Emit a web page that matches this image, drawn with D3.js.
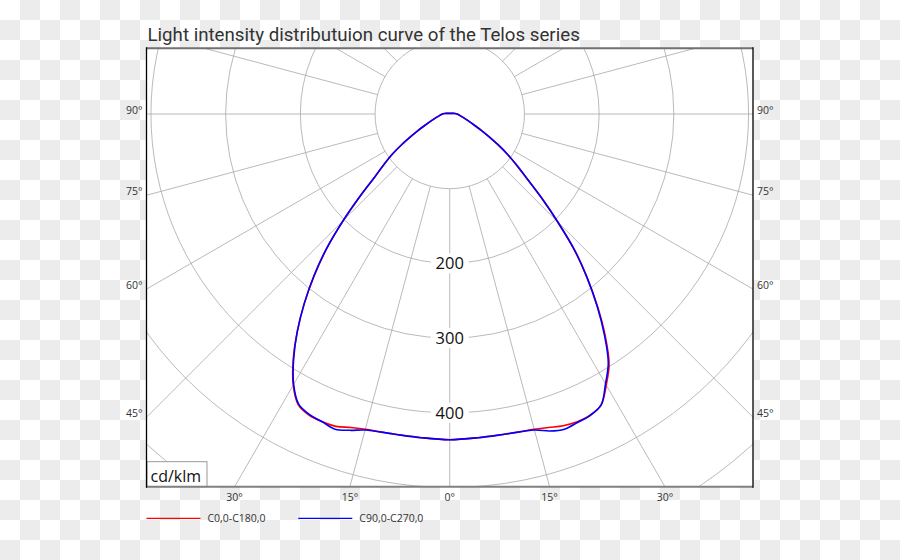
<!DOCTYPE html>
<html><head><meta charset="utf-8">
<script src="https://cdn.jsdelivr.net/npm/d3@7"></script>
<style>body{margin:0;background:#fff}svg{display:block}</style>
</head><body>
<svg id="chart" width="900" height="560"></svg>
<script>
// ---------- data ----------
const titleText = "Light intensity distributuion curve of the Telos series";
const unitLabel = "cd/klm";
const seriesNames = ["C0,0-C180,0", "C90,0-C270,0"];
const seriesColors = ["#ff0000", "#0000ff"];
// gamma angles (degrees from nadir)
const angles = [0,5,10,15,17.5,20,22.5,25,27.5,30,32.5,35,37.5,40,42.5,45,47.5,50,52.5,55,57.5,60,62.5,65,70,75,80,85,90,95,100,110,120,150,180];
// cd/klm
const c0   = [436,435,435,437,440,444,446,445,439,419,397,363,325,286,247,204,167,135,113,95,77,61,48,38,26,19,14.5,12,9.8,7,4.6,2.3,1.6,0.9,0.8];
const c180 = [436,435,435,437,440,445,446,445,439,419,390,356,320,282,243,201,162,131,111,94,76,60,48,38,26,19,14.5,12,9.8,7,4.6,2.3,1.6,0.9,0.8];
const c90  = [436,435,435,438,445,449,447,445,439,417,395,361,324,286,248,205,168,136,114,95,77,61,48,38,26,19,14.5,12,9.8,7,4.6,2.3,1.6,0.9,0.8];
const c270 = [436,435,435,438,444,449,446,444,438,418,389,356,320,283,244,202,163,131,111,94,76,60,48,38,26,19,14.5,12,9.8,7,4.6,2.3,1.6,0.9,0.8];
const ringValues = [100,200,300,400,500,600,700];
const ringLabels = [200,300,400];
const spokeAngles = d3.range(0, 360, 15);
const sideTicks = [90,75,60,45];
const bottomTicks = [-30,-15,0,15,30];

// ---------- layout ----------
const W = 900, H = 560;
const box = {left:146.5, right:753, top:48.3, bottom:486.7};
const cx = (box.left + box.right) / 2, cy = 114;
const r = d3.scaleLinear().domain([0, 100]).range([0, 74.7]);
const svg = d3.select("#chart");
const labelFont = "'Open Sans', sans-serif";

// checker background
const defs = svg.append("defs");
const pat = defs.append("pattern").attr("id","chk").attr("patternUnits","userSpaceOnUse")
  .attr("width",40).attr("height",40);
pat.append("rect").attr("width",40).attr("height",40).attr("fill","#fff");
pat.append("rect").attr("x",20).attr("y",0).attr("width",20).attr("height",20).attr("fill","#ececec");
pat.append("rect").attr("x",0).attr("y",20).attr("width",20).attr("height",20).attr("fill","#ececec");
svg.append("rect").attr("width",W).attr("height",H).attr("fill","url(#chk)");

defs.append("clipPath").attr("id","plotclip").append("rect")
  .attr("x",box.left).attr("y",box.top).attr("width",box.right-box.left).attr("height",box.bottom-box.top);

svg.append("rect").attr("x",box.left).attr("y",box.top)
  .attr("width",box.right-box.left).attr("height",box.bottom-box.top).attr("fill","#fff");

const plot = svg.append("g").attr("clip-path","url(#plotclip)");
const g = plot.append("g").attr("transform",`translate(${cx},${cy})`);

// spokes
const rad = d => d * Math.PI / 180;
g.selectAll("line.spoke").data(spokeAngles).join("line").attr("class","spoke")
  .attr("x1", d => r(100) * Math.sin(rad(d))).attr("y1", d => r(100) * Math.cos(rad(d)))
  .attr("x2", d => r(1000) * Math.sin(rad(d))).attr("y2", d => r(1000) * Math.cos(rad(d)))
  .attr("stroke","#a8a8a8").attr("stroke-width",0.8);

// rings
g.selectAll("circle.ring").data(ringValues).join("circle").attr("class","ring")
  .attr("r", d => r(d)).attr("fill","none").attr("stroke","#a8a8a8").attr("stroke-width",0.8);

// ring labels
const rl = g.selectAll("g.rl").data(ringLabels).join("g").attr("class","rl")
  .attr("transform", d => `translate(0,${r(d)})`);
rl.append("rect").attr("x",-19).attr("y",-10).attr("width",38).attr("height",20).attr("fill","#fff");
rl.append("text").text(d => d).attr("text-anchor","middle").attr("dy","0.36em")
  .attr("font-family",labelFont).attr("font-size",16.5).attr("fill","#111");

// curves
const line = d3.lineRadial().angle(d => d.a).radius(d => r(d.v)).curve(d3.curveCatmullRom.alpha(0.5));
function curvePts(left, right) {
  const pts = [];
  for (let i = angles.length - 1; i >= 0; i--) pts.push({a: Math.PI + rad(angles[i]), v: left[i]});
  for (let i = 1; i < angles.length; i++) pts.push({a: Math.PI - rad(angles[i]), v: right[i]});
  return pts;
}
const curves = [curvePts(c180, c0), curvePts(c270, c90)];
g.selectAll("path.curve").data(curves).join("path").attr("class","curve")
  .attr("d", line).attr("fill","none")
  .attr("stroke", (d,i) => seriesColors[i]).attr("stroke-width",1.6);

// unit box
const ub = svg.append("g");
ub.append("rect").attr("x",box.left+0.5).attr("y",461.7).attr("width",60).attr("height",box.bottom-461.7)
  .attr("fill","#fff").attr("stroke","#999").attr("stroke-width",1);
ub.append("text").text(unitLabel).attr("x",150.5).attr("y",481.7)
  .attr("font-family",labelFont).attr("font-size",16).attr("fill","#111");

// border
svg.append("line").attr("x1",box.left).attr("x2",box.right).attr("y1",box.top).attr("y2",box.top)
  .attr("stroke","#707070").attr("stroke-width",2);
svg.append("line").attr("x1",box.left).attr("x2",box.right).attr("y1",box.bottom).attr("y2",box.bottom)
  .attr("stroke","#808080").attr("stroke-width",2);
svg.append("line").attr("x1",box.left).attr("x2",box.left).attr("y1",box.top-1).attr("y2",box.bottom+1)
  .attr("stroke","#000").attr("stroke-width",1.3);
svg.append("line").attr("x1",box.right).attr("x2",box.right).attr("y1",box.top-1).attr("y2",box.bottom+1)
  .attr("stroke","#000").attr("stroke-width",1.3);

// side angle labels
const dxEdge = cx - box.left;
sideTicks.forEach(t => {
  const y = cy + dxEdge / Math.tan(rad(t));
  svg.append("text").text(t + "°").attr("x", box.left - 4).attr("y", y).attr("text-anchor","end")
    .attr("font-family",labelFont).attr("font-size",10.5).attr("fill","#333");
  svg.append("text").text(t + "°").attr("x", box.right + 4).attr("y", y).attr("text-anchor","start")
    .attr("font-family",labelFont).attr("font-size",10.5).attr("fill","#333");
});
const dyEdge = box.bottom - cy;
bottomTicks.forEach(t => {
  const x = cx + dyEdge * Math.tan(rad(t));
  svg.append("text").text(Math.abs(t) + "°").attr("x", x).attr("y", 501).attr("text-anchor","middle")
    .attr("font-family",labelFont).attr("font-size",10.5).attr("fill","#333");
});

// legend
const legX = [146.5, 298.3];
seriesNames.forEach((n,i) => {
  svg.append("line").attr("x1",legX[i]).attr("x2",legX[i]+54).attr("y1",518.3).attr("y2",518.3)
    .attr("stroke",seriesColors[i]).attr("stroke-width",1.3);
  svg.append("text").text(n).attr("x",legX[i]+61).attr("y",522)
    .attr("font-family",labelFont).attr("font-size",10.5).attr("fill","#333");
});

// title
const tt = svg.append("text").text(titleText).attr("x",147.5).attr("y",41)
  .attr("font-family","Roboto, sans-serif").attr("font-size",18).attr("fill","#333");
const tl = tt.node().getComputedTextLength();
tt.attr("font-size", 18 * 432.5 / tl);
</script>
</body></html>
